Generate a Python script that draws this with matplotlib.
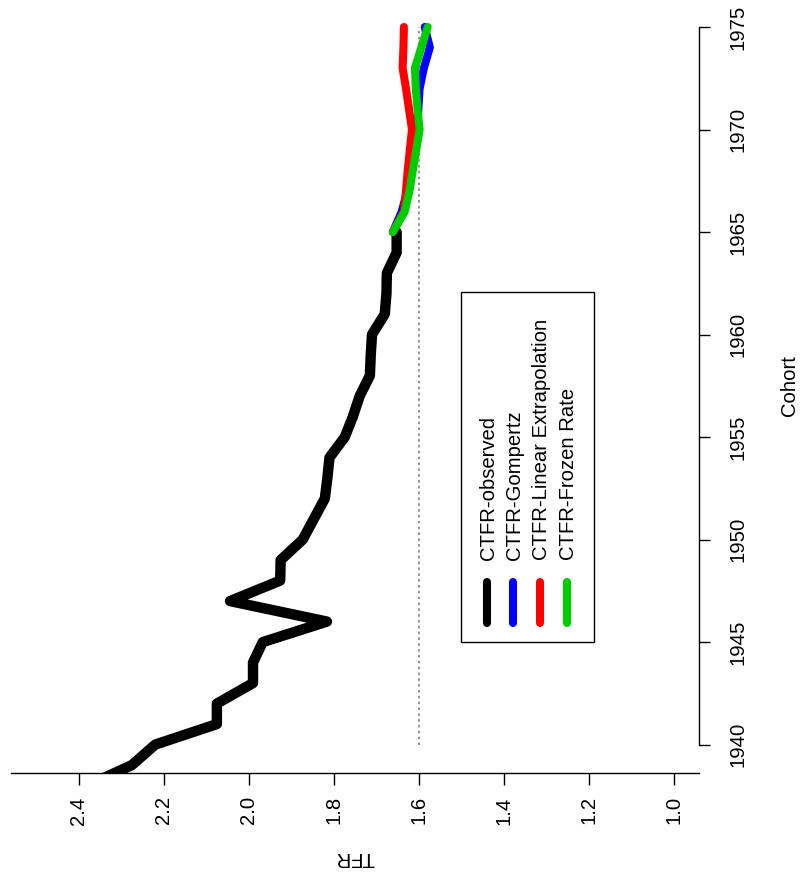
import numpy as np
import matplotlib.pyplot as plt

plt.rcParams['font.family'] = ['Liberation Sans', 'DejaVu Sans']

# --- data ---
obs_cohort = list(range(1938, 1966))
obs_tfr = [2.38, 2.275, 2.22, 2.075, 2.075, 1.99, 1.99, 1.967, 1.816, 2.044,
           1.926, 1.925, 1.873, 1.847, 1.821, 1.815, 1.81, 1.774, 1.755, 1.739,
           1.715, 1.713, 1.71, 1.68, 1.676, 1.675, 1.652, 1.652]

fc_cohort = list(range(1965, 1976))
gompertz = [1.661, 1.64, 1.627, 1.617, 1.61, 1.603, 1.601, 1.598, 1.588, 1.574, 1.586]
linear = [1.661, 1.635, 1.63, 1.626, 1.621, 1.616, 1.623, 1.63, 1.638, 1.636, 1.635]
frozen = [1.661, 1.633, 1.622, 1.614, 1.606, 1.598, 1.603, 1.607, 1.609, 1.594, 1.579]

legend_labels = ['CTFR-observed', 'CTFR-Gompertz', 'CTFR-Linear Extrapolation', 'CTFR-Frozen Rate']
legend_colors = ['black', '#0000ff', '#ff0000', '#00cd00']

tfr_ticks = [2.4, 2.2, 2.0, 1.8, 1.6, 1.4, 1.2, 1.0]
cohort_ticks = [1940, 1945, 1950, 1955, 1960, 1965, 1970, 1975]

FS = 14.6
W, H = 801, 881
fig = plt.figure(figsize=(W / 100, H / 100), dpi=100)
ax = fig.add_axes([10.7 / W, (H - 773.3) / H, 688.6 / W, 775 / H])

# the plot is drawn rotated: TFR runs along the bottom, cohort up the right
ax.plot([1.6, 1.6], [1940, 1975], color='#808080', lw=1.2, ls=(0, (1.5, 2)))
ax.plot(obs_tfr, obs_cohort, color='black', lw=7.5,
        solid_capstyle='round', solid_joinstyle='round')
for vals, col in zip([gompertz, linear, frozen], legend_colors[1:]):
    ax.plot(vals, fc_cohort, color=col, lw=5.8,
            solid_capstyle='round', solid_joinstyle='round')

ax.set_xlim(2.56, 0.94)
ax.set_ylim(1938.6, 1976.4)

for s in ['top', 'left']:
    ax.spines[s].set_visible(False)
ax.spines['right'].set_bounds(1940, 1975)
ax.spines['bottom'].set_linewidth(1.0)
ax.spines['right'].set_linewidth(1.0)

ax.yaxis.tick_right()
ax.set_xticks(tfr_ticks)
ax.set_xticklabels([f'{v:.1f}' for v in tfr_ticks], rotation=90)
ax.set_yticks(cohort_ticks)
ax.set_yticklabels([str(v) for v in cohort_ticks], rotation=90, va='center')
ax.tick_params(axis='x', length=8.6, width=1.0, pad=8, labelsize=FS)
ax.tick_params(axis='y', length=8.2, width=1.0, pad=13, labelsize=FS)

fig.text(355 / W, 1 - 858 / H, 'TFR', rotation=180, ha='center', va='center', fontsize=FS)
fig.text(790 / W, 1 - 386 / H, 'Cohort', rotation=90, ha='center', va='center', fontsize=FS)

# legend drawn by hand, rotated like the rest
box = plt.Rectangle((460.7 / W, 1 - 641.7 / H), (594 - 460.7) / W, (641.7 - 291.7) / H,
                    transform=fig.transFigure, fill=False, lw=1.0, ec='black')
fig.add_artist(box)
leg_x = [486.7, 513.3, 540, 566.7]
for x, lab, col in zip(leg_x, legend_labels, legend_colors):
    fig.add_artist(plt.Line2D([x / W, x / W], [1 - 623 / H, 1 - 581.7 / H],
                              transform=fig.transFigure, color=col, lw=5.8,
                              solid_capstyle='round'))
    fig.text((x + 1.5) / W, 1 - 560 / H, lab, rotation=90, ha='center', va='bottom',
             fontsize=FS)

fig.savefig('out.png', dpi=100)
